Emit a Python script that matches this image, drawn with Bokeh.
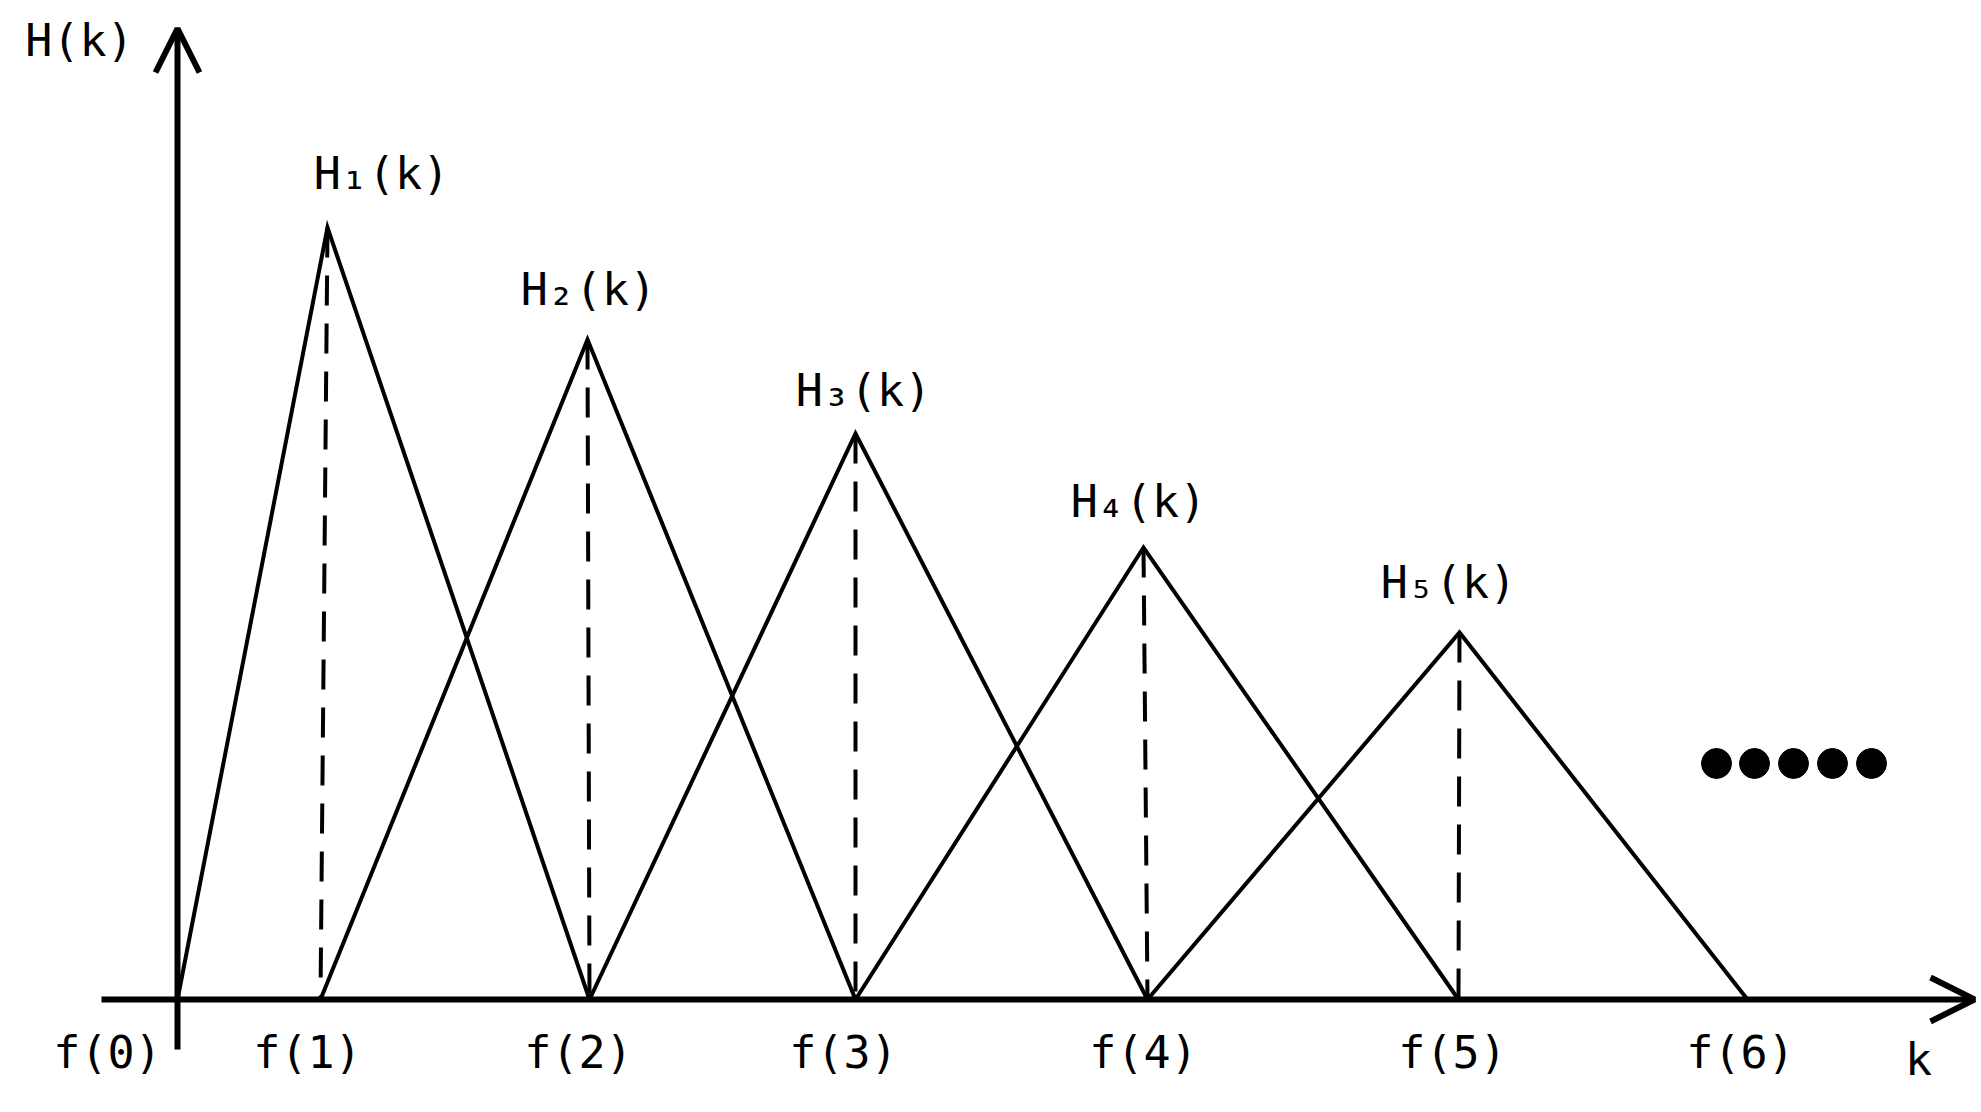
from bokeh.plotting import figure
from bokeh.models import Range1d, Arrow, OpenHead, ColumnDataSource
from bokeh.embed import file_html
from bokeh.resources import INLINE
from bokeh.core.properties import value

# ---- data (x in arbitrary frequency units, y = filter gain) ----
tick_labels = ["f(0)", "f(1)", "f(2)", "f(3)", "f(4)", "f(5)", "f(6)"]
f_pos = [0.0, 1.43, 4.12, 6.78, 9.70, 12.81, 15.70]
filter_names = ["H\u2081(k)", "H\u2082(k)", "H\u2083(k)", "H\u2084(k)", "H\u2085(k)"]
peak_x = [1.50, 4.10, 6.78, 9.66, 12.82]
peak_h = [7.72, 6.60, 5.66, 4.52, 3.67]
ellipsis_x = [15.39, 15.77, 16.16, 16.55, 16.94]
ellipsis_y = [2.36, 2.36, 2.36, 2.36, 2.36]
x_axis_name = "k"
y_axis_name = "H(k)"

# ---- layout / style ----
FONT = value("DejaVu Sans Mono")
FS = "45px"
label_dx = [54, 1, 8, -5, -11]
label_dy = [-54, -50, -43, -46, -50]
tick_dx = [-70, -13, -11, -12, -4, -6, -7]

W, H = 1980, 1106
p = figure(width=W, height=H,
           x_range=Range1d(-1.77, (W - 177) / 100.0),
           y_range=Range1d((999 - H) / 100.0, 9.99),
           output_backend="svg", toolbar_location=None, min_border=0,
           title=None, x_axis_location=None, y_axis_location=None)
p.grid.visible = False
p.outline_line_color = None
p.background_fill_color = "white"
p.border_fill_color = "white"

# triangular filters
xs, ys = [], []
for i in range(len(peak_x)):
    xs.append([f_pos[i], peak_x[i], f_pos[i + 2]])
    ys.append([0, peak_h[i], 0])
p.multi_line(xs=xs, ys=ys, line_color="black", line_width=4, line_join="miter")

# dashed centre lines
p.segment(x0=peak_x, y0=peak_h, x1=f_pos[1:6], y1=[0] * 5,
          line_color="black", line_width=4, line_dash="30 18")

# axes with arrows
p.add_layout(Arrow(end=OpenHead(size=44, line_width=6, line_color="black"),
                   x_start=-0.76, y_start=0, x_end=17.97, y_end=0,
                   line_width=6, line_color="black"))
p.add_layout(Arrow(end=OpenHead(size=44, line_width=6, line_color="black"),
                   x_start=0, y_start=-0.50, x_end=0, y_end=9.71,
                   line_width=6, line_color="black"))

# filter labels
src_lab = ColumnDataSource(dict(x=peak_x, y=peak_h, t=filter_names, dx=label_dx, dy=label_dy))
p.text(x="x", y="y", text="t", x_offset="dx", y_offset="dy", source=src_lab,
       text_font=FONT, text_font_size=FS, text_align="center",
       text_baseline="alphabetic", text_color="black")

# tick labels
src_tick = ColumnDataSource(dict(x=f_pos, y=[0] * 7, t=tick_labels, dx=tick_dx))
p.text(x="x", y="y", text="t", x_offset="dx", y_offset=53, source=src_tick,
       text_font=FONT, text_font_size=FS, text_align="center",
       text_baseline="alphabetic", text_color="black")

# axis names
p.text(x=[-0.98], y=[9.59], text=[y_axis_name], text_font=FONT, text_font_size=FS,
       text_align="center", text_baseline="alphabetic", text_color="black")
p.text(x=[17.41], y=[-0.60], text=[x_axis_name], text_font=FONT, text_font_size=FS,
       text_align="center", text_baseline="alphabetic", text_color="black")

# ellipsis dots
p.scatter(x=ellipsis_x, y=ellipsis_y, size=30, marker="circle",
          fill_color="black", line_color="black")

open("out.html", "w").write(file_html(p, INLINE))
